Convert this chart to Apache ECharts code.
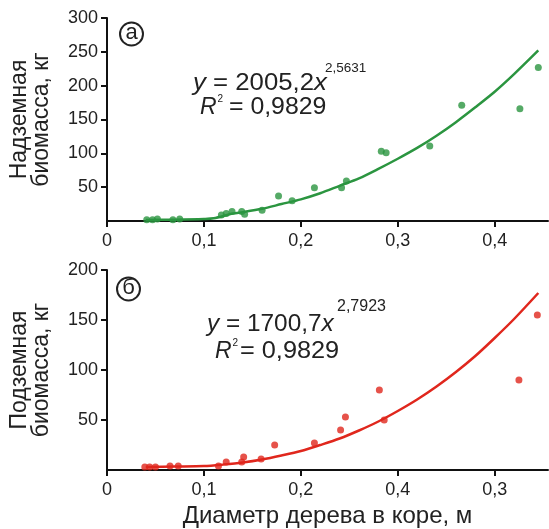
<!DOCTYPE html>
<html><head><meta charset="utf-8">
<script src="https://cdn.jsdelivr.net/npm/echarts@6/dist/echarts.min.js"></script>
<style>html,body{margin:0;padding:0;background:#fff}#c{width:549px;height:529px}</style>
</head><body><div id="c"></div>
<script>
// ---- data ----
const xTickValues = [0, 0.1, 0.2, 0.3, 0.4];
const xTickLabelsTop = ['0', '0,1', '0,2', '0,3', '0,4'];
const xTickLabelsBottom = ['0', '0,1', '0,2', '0,4', '0,3'];

const aboveX = [0.041,0.047,0.052,0.068,0.075,0.118,0.123,0.129,0.139,0.142,0.160,0.177,0.191,0.214,0.242,0.247,0.283,0.288,0.333,0.366,0.426,0.445];
const aboveY = [2,2,3,2,3,9,11,14,14,10,16,37,30,49,49,59,103,101,111,171,166,227];
const aboveFitX = [0.04,0.07,0.10,0.11,0.13,0.14,0.16,0.18,0.20,0.22,0.24,0.26,0.28,0.30,0.32,0.34,0.36,0.38,0.40,0.42,0.445];
const aboveFitY = [1.5,2,3,4,11,13,18,25,32,41,52,63,77,92,108,126,146,168,191,217,252];

const belowX = [0.039,0.044,0.050,0.065,0.0735,0.115,0.123,0.139,0.141,0.159,0.173,0.214,0.241,0.246,0.281,0.286,0.425,0.444];
const belowY = [3,3,3,4,4,4,8,8,13,11,25,27,40,53,80,50,90,155];
const belowFitX = [0.04,0.07,0.10,0.12,0.14,0.16,0.18,0.20,0.22,0.24,0.26,0.28,0.30,0.32,0.34,0.36,0.38,0.40,0.42,0.445];
const belowFitY = [3,3.5,4,5.5,7.5,10.5,14.5,19,25,31.5,39.5,48.5,59,70.5,83.5,98,114,132,151,177];

const topYTicks = [50,100,150,200,250,300];
const bottomYTicks = [50,100,150,200];

// ---- chart ----
const green = '#2b9540', red = '#e0271d';
const FONT = 'Liberation Sans, Arial, sans-serif';
const zip = (a, b) => a.map((v, i) => [v, b[i]]);

function xAxisCfg(gridIndex, labels, name) {
  return {
    type: 'value', gridIndex, min: 0, max: 0.455,
    axisLine: { show: true, lineStyle: { color: '#111', width: 2 } },
    axisTick: { show: true, length: 6, lineStyle: { color: '#111', width: 2 }, customValues: xTickValues },
    axisLabel: { color: '#222', fontSize: 18, fontFamily: FONT, margin: 11, customValues: xTickValues,
      formatter: v => { const i = xTickValues.findIndex(t => Math.abs(t - v) < 1e-6); return i >= 0 ? labels[i] : ''; } },
    splitLine: { show: false },
    name: name || '', nameLocation: 'middle', nameGap: 34,
    nameTextStyle: { color: '#222', fontSize: 24, fontFamily: FONT }
  };
}
function yAxisCfg(gridIndex, max, ticks, name) {
  return {
    type: 'value', gridIndex, min: 0, max, interval: 50,
    axisLine: { show: true, lineStyle: { color: '#111', width: 2 } },
    axisTick: { show: true, length: 6, lineStyle: { color: '#111', width: 2 }, customValues: ticks },
    axisLabel: { color: '#222', fontSize: 18, fontFamily: FONT, margin: 9, customValues: ticks },
    splitLine: { show: false },
    name, nameLocation: 'middle', nameRotate: 90, nameGap: 54,
    nameTextStyle: { color: '#222', fontSize: 23, fontFamily: FONT, lineHeight: 22 }
  };
}
function txt(x, y, text, size, sx, extra) {
  return Object.assign({ type: 'text', x, y, scaleX: sx || 1, style: Object.assign({
    text, fontSize: size, fontFamily: FONT, fill: '#222', verticalAlign: 'middle',
    rich: { i: { fontStyle: 'italic', fontSize: size, fontFamily: FONT, fill: '#222' } } }, extra || {}) });
}

const chart = echarts.init(document.getElementById('c'));
chart.setOption({
  animation: false,
  backgroundColor: '#fff',
  grid: [
    { left: 107, top: 18, width: 441, height: 203 },
    { left: 107, top: 270, width: 441, height: 205 }
  ],
  xAxis: [xAxisCfg(0, xTickLabelsTop), xAxisCfg(1, xTickLabelsBottom, 'Диаметр дерева в коре, м')],
  yAxis: [yAxisCfg(0, 300, topYTicks, 'Надземная\nбиомасса, кг'), yAxisCfg(1, 200, bottomYTicks, 'Подземная\nбиомасса, кг')],
  series: [
    { type: 'line', xAxisIndex: 0, yAxisIndex: 0, data: zip(aboveFitX, aboveFitY), smooth: 0.3, showSymbol: false,
      lineStyle: { color: green, width: 2.5 }, z: 2 },
    { type: 'scatter', xAxisIndex: 0, yAxisIndex: 0, data: zip(aboveX, aboveY), symbolSize: 7,
      itemStyle: { color: green }, z: 3 },
    { type: 'line', xAxisIndex: 1, yAxisIndex: 1, data: zip(belowFitX, belowFitY), smooth: 0.3, showSymbol: false,
      lineStyle: { color: red, width: 2.5 }, z: 2 },
    { type: 'scatter', xAxisIndex: 1, yAxisIndex: 1, data: zip(belowX, belowY), symbolSize: 7,
      itemStyle: { color: red }, z: 3 }
  ],
  graphic: [
    { type: 'circle', shape: { cx: 131.5, cy: 34, r: 11.5 }, style: { fill: 'none', stroke: '#222', lineWidth: 2 } },
    txt(131.5, 33, 'а', 22, 1, { align: 'center' }),
    { type: 'circle', shape: { cx: 128.5, cy: 289, r: 11.5 }, style: { fill: 'none', stroke: '#222', lineWidth: 2 } },
    txt(128.5, 288, 'б', 22, 1, { align: 'center' }),

    txt(193, 84, '{i|y} = 2005,2{i|x}', 23, 1.12),
    txt(325, 68, '2,5631', 13.5, 1),
    txt(200, 108, '{i|R}', 23, 1),
    txt(217.5, 99, '2', 10, 1),
    txt(229, 108, '= 0,9829', 23, 1.08),

    txt(207, 325, '{i|y} = 1700,7{i|x}', 23, 1.06),
    txt(337, 307, '2,7923', 16, 1),
    txt(215, 352, '{i|R}', 23, 1),
    txt(232.5, 343, '2', 10, 1),
    txt(240, 352, '= 0,9829', 23, 1.1)
  ]
});
</script>
</body></html>
